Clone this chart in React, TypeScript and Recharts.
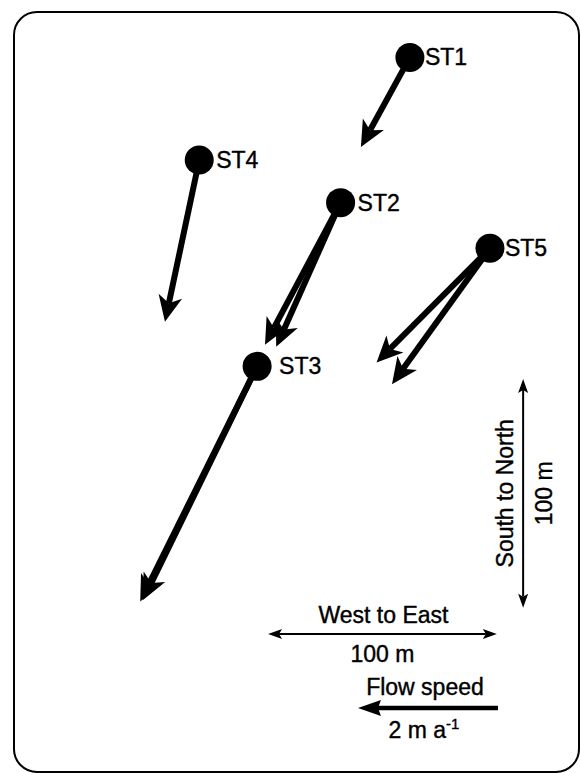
import React from "react";
import { ScatterChart, Scatter, XAxis, YAxis, ReferenceLine } from "recharts";

// map coordinates in metres (x = east, y = north), velocities in m a-1
const STATIONS = ["ST1", "ST2", "ST3", "ST4", "ST5"];
const STATION_X = [179.2, 148.9, 112.4, 87.1, 214.2];
const STATION_Y = [312.9, 249.4, 177.8, 268.0, 229.4];

// first survey period
const VEL_EAST_A = [-0.7, -1.08, -1.67, -0.49, -1.62];
const VEL_NORTH_A = [-1.28, -2.03, -3.36, -2.31, -1.63];
// second survey period (not measured at ST1 / ST4)
const VEL_EAST_B = [null, -0.92, -1.63, null, -1.4];
const VEL_NORTH_B = [null, -2.06, -3.34, null, -1.94];

const METRES_PER_SPEED = 30.6; // map metres drawn for 1 m a-1
const SCALE_LENGTH = 100; // m
const FLOW_REF_SPEED = 2; // m a-1

const EW_BAR = { x: 117.2, y: 60.8 };
const NS_BAR = { x: 228.7, y: 72.3 };
const FLOW_BAR = { x: 217.7, y: 28.4 };

const FONT = '"Liberation Sans", Arial, Helvetica, sans-serif';
const TEXT_STYLE = { fontSize: 23, fontFamily: FONT, fill: "#000", stroke: "#000", strokeWidth: 0.4 };

const stationData = STATIONS.map((name, i) => ({
  name,
  x: STATION_X[i],
  y: STATION_Y[i],
}));

const vectors: { key: string; x0: number; y0: number; x1: number; y1: number }[] = [];
STATIONS.forEach((name, i) => {
  vectors.push({
    key: name + "-a",
    x0: STATION_X[i],
    y0: STATION_Y[i],
    x1: STATION_X[i] + VEL_EAST_A[i] * METRES_PER_SPEED,
    y1: STATION_Y[i] + VEL_NORTH_A[i] * METRES_PER_SPEED,
  });
  const vb = VEL_EAST_B[i];
  const nb = VEL_NORTH_B[i];
  if (vb != null && nb != null) {
    vectors.push({
      key: name + "-b",
      x0: STATION_X[i],
      y0: STATION_Y[i],
      x1: STATION_X[i] + vb * METRES_PER_SPEED,
      y1: STATION_Y[i] + nb * METRES_PER_SPEED,
    });
  }
});

const LABEL_DX: Record<string, number> = { ST1: 15, ST2: 17, ST3: 22, ST4: 17, ST5: 15 };

function head(x1: number, y1: number, x2: number, y2: number, len: number, half: number, notch: number) {
  const L = Math.hypot(x2 - x1, y2 - y1) || 1;
  const ux = (x2 - x1) / L;
  const uy = (y2 - y1) / L;
  const px = -uy;
  const py = ux;
  const bx = x2 - ux * len;
  const by = y2 - uy * len;
  const nx = x2 - ux * notch;
  const ny = y2 - uy * notch;
  return {
    points: `${x2},${y2} ${bx + px * half},${by + py * half} ${nx},${ny} ${bx - px * half},${by - py * half}`,
    nx,
    ny,
  };
}

const VectorShape = (props: any) => {
  const { x1, y1, x2, y2 } = props;
  const h = head(x1, y1, x2, y2, 26, 12, 19);
  return (
    <g>
      <line x1={x1} y1={y1} x2={h.nx} y2={h.ny} stroke="#000" strokeWidth={6} />
      <polygon points={h.points} fill="#000" />
    </g>
  );
};

const DoubleArrow = (props: any) => {
  const { x1, y1, x2, y2 } = props;
  const a = head(x1, y1, x2, y2, 14, 5, 11);
  const b = head(x2, y2, x1, y1, 14, 5, 11);
  return (
    <g>
      <line x1={b.nx} y1={b.ny} x2={a.nx} y2={a.ny} stroke="#000" strokeWidth={2} />
      <polygon points={a.points} fill="#000" />
      <polygon points={b.points} fill="#000" />
    </g>
  );
};

const EwShape = (props: any) => {
  const { x1, y1, x2 } = props;
  const mx = (x1 + x2) / 2;
  return (
    <g>
      <DoubleArrow {...props} />
      <text x={mx + 1} y={y1 - 11} textAnchor="middle" {...TEXT_STYLE}>
        West to East
      </text>
      <text x={mx} y={y1 + 28} textAnchor="middle" {...TEXT_STYLE}>
        100 m
      </text>
    </g>
  );
};

const NsShape = (props: any) => {
  const { x1, y1, y2 } = props;
  const my = (y1 + y2) / 2;
  return (
    <g>
      <DoubleArrow {...props} />
      <text x={x1 - 10} y={my} transform={`rotate(-90 ${x1 - 10} ${my})`} textAnchor="middle" {...TEXT_STYLE}>
        South to North
      </text>
      <text x={x1 + 29} y={my} transform={`rotate(-90 ${x1 + 29} ${my})`} textAnchor="middle" {...TEXT_STYLE}>
        100 m
      </text>
    </g>
  );
};

const FlowShape = (props: any) => {
  const { x1, y1, x2, y2 } = props;
  const h = head(x1, y1, x2, y2, 23, 8, 20);
  const mx = (x1 + x2) / 2;
  return (
    <g>
      <line x1={x1} y1={y1} x2={h.nx} y2={h.ny} stroke="#000" strokeWidth={4.5} />
      <polygon points={h.points} fill="#000" />
      <text x={mx - 3} y={y1 - 13} textAnchor="middle" {...TEXT_STYLE}>
        Flow speed
      </text>
      <text x={mx - 4} y={y1 + 30} textAnchor="middle" {...TEXT_STYLE}>
        2 m a
        <tspan dy={-9} fontSize={15}>
          -1
        </tspan>
      </text>
    </g>
  );
};

const StationShape = (props: any) => {
  const { cx, cy, payload } = props;
  return (
    <g>
      <circle cx={cx} cy={cy} r={14.5} fill="#000" />
      <text x={cx + (LABEL_DX[payload.name] ?? 15)} y={cy + 8} {...TEXT_STYLE}>
        {payload.name}
      </text>
    </g>
  );
};

export default function App() {
  return (
    <div style={{ position: "absolute", left: 0, top: 0, width: 581, height: 773, background: "#fff" }}>
      <div
        style={{
          position: "absolute",
          left: 13,
          top: 11,
          width: 567,
          height: 762,
          boxSizing: "border-box",
          border: "2px solid #000",
          borderRadius: 24,
        }}
      />
      <div style={{ position: "absolute", left: 0, top: 0 }}>
        <ScatterChart width={581} height={773} margin={{ top: 0, right: 0, bottom: 0, left: 0 }}>
          <XAxis type="number" dataKey="x" domain={[0, 254]} hide />
          <YAxis type="number" dataKey="y" domain={[0, 338]} hide />
          {vectors.map((v) => (
            <ReferenceLine
              key={v.key}
              segment={[
                { x: v.x0, y: v.y0 },
                { x: v.x1, y: v.y1 },
              ]}
              ifOverflow="visible"
              shape={VectorShape}
            />
          ))}
          <ReferenceLine
            segment={[
              { x: EW_BAR.x, y: EW_BAR.y },
              { x: EW_BAR.x + SCALE_LENGTH, y: EW_BAR.y },
            ]}
            ifOverflow="visible"
            shape={EwShape}
          />
          <ReferenceLine
            segment={[
              { x: NS_BAR.x, y: NS_BAR.y },
              { x: NS_BAR.x, y: NS_BAR.y + SCALE_LENGTH },
            ]}
            ifOverflow="visible"
            shape={NsShape}
          />
          <ReferenceLine
            segment={[
              { x: FLOW_BAR.x, y: FLOW_BAR.y },
              { x: FLOW_BAR.x - FLOW_REF_SPEED * METRES_PER_SPEED, y: FLOW_BAR.y },
            ]}
            ifOverflow="visible"
            shape={FlowShape}
          />
          <Scatter data={stationData} shape={StationShape} isAnimationActive={false} />
        </ScatterChart>
      </div>
    </div>
  );
}
